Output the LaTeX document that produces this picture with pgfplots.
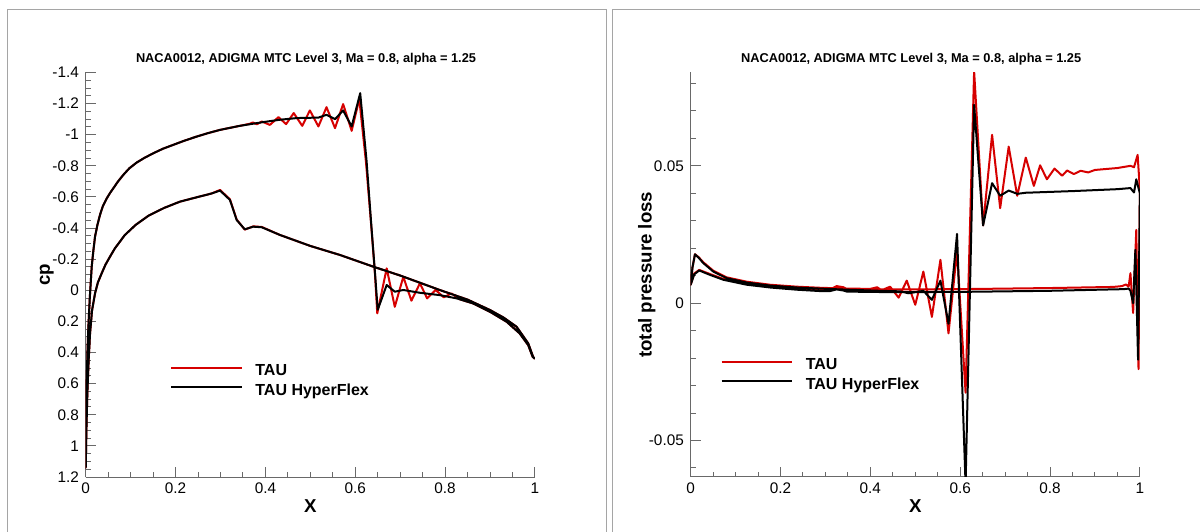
\documentclass[border=0pt]{standalone}
\usepackage{fontspec}
\setmainfont{Liberation Sans}
\usepackage{pgfplots}
\pgfplotsset{compat=1.18}

\definecolor{tauRed}{RGB}{214,0,0}
\definecolor{axGray}{RGB}{105,105,105}
\definecolor{frameGray}{RGB}{165,165,165}

\pgfplotsset{
  tecplot/.style={
    scale only axis,
    width=336.9pt, height=303.4pt,
    axis lines=left,
    axis line style={-, draw=axGray, line width=0.75pt},
    tick align=inside,
    major tick length=7.5pt, minor tick length=4pt,
    every tick/.style={axGray, line width=0.75pt},
    /pgf/number format/assume math mode=true,
    scaled y ticks=false,
    tick label style={font=\fontsize{11.5}{13}\selectfont},
    xmin=0, xmax=1,
    xtick={0,0.2,0.4,0.6,0.8,1}, minor x tick num=3,
    xticklabel style={anchor=base, yshift=-12.7pt},
    yticklabel style={xshift=-1.6pt},
    every axis title shift=0pt,
    title style={font=\bfseries\fontsize{9.6}{11}\selectfont, anchor=base, yshift=0pt},
    label style={font=\bfseries\fontsize{14}{16}\selectfont},
    xlabel style={at={(axis description cs:0.5,-0.0873)}, anchor=base},
    legend cell align=left,
    legend style={draw=none, fill=none, inner sep=0pt, outer sep=0pt,
      font=\bfseries\fontsize{12}{14}\selectfont,
      nodes={inner sep=0pt, text height=9pt, text depth=2.6pt},
      row sep=3pt, column sep=9.5pt},
    legend image code/.code={\draw[#1] (0pt,2.8pt) -- (53pt,2.8pt);},
    every axis plot/.append style={line width=1.5pt, line join=round},
  }
}

\begin{document}
\begin{tikzpicture}
\path[use as bounding box] (0pt,0pt) rectangle (900pt,399pt);
% panel frames
\draw[frameGray, line width=0.75pt] (5.625pt,-2pt) -- (5.625pt,391.9pt) -- (454.9pt,391.9pt) -- (454.9pt,-2pt);
\draw[frameGray, line width=0.75pt] (459.4pt,-2pt) -- (459.4pt,391.9pt) -- (902pt,391.9pt);

% pressure coefficient: lower surface from the trailing edge forward, then upper surface back
\begin{axis}[tecplot,
  at={(64.3pt,41.25pt)}, anchor=south west,
  y dir=reverse,
  ymin=-1.4, ymax=1.2,
  ytick={-1.4,-1.2,-1,-0.8,-0.6,-0.4,-0.2,0,0.2,0.4,0.6,0.8,1,1.2},
  minor y tick num=3,
  title={NACA0012, ADIGMA MTC Level 3, Ma = 0.8, alpha = 1.25},
  title style={at={(axis description cs:0.4904,1.0235)}},
  xlabel={X}, ylabel={cp},
  ylabel style={at={(axis description cs:-0.0801,0.5)}, anchor=base},
  legend style={at={(axis description cs:0.1877,0.2801)}, anchor=north west},
]
\addplot[tauRed] coordinates {
(1.0,0.44) (0.996,0.428) (0.985,0.341) (0.959,0.234) (0.93,0.175) (0.9,0.127)
(0.85,0.06) (0.788,-0.002) (0.7,-0.095) (0.64,-0.152) (0.566,-0.227) (0.5,-0.285)
(0.432,-0.356) (0.392,-0.407) (0.373,-0.411) (0.354,-0.39) (0.336,-0.455)
(0.321,-0.585) (0.299,-0.645) (0.28,-0.622) (0.25,-0.6) (0.21,-0.57) (0.175,-0.53)
(0.14,-0.48) (0.111,-0.42) (0.087,-0.355) (0.065,-0.27) (0.054,-0.216)
(0.044,-0.165) (0.0355,-0.109) (0.027,-0.05) (0.0207,0.02) (0.014,0.13)
(0.0096,0.277) (0.0065,0.45) (0.0036,0.663) (0.0015,0.9) (0,1.14)
(0.0008,0.85) (0.0022,0.58) (0.004,0.38) (0.0059,0.234) (0.009,0.05)
(0.0133,-0.152) (0.017,-0.255) (0.0207,-0.345) (0.026,-0.42) (0.0318,-0.485)
(0.038,-0.54) (0.0467,-0.59) (0.054,-0.625) (0.0615,-0.656) (0.072,-0.70)
(0.0837,-0.742) (0.097,-0.784) (0.1134,-0.821) (0.13,-0.85) (0.1505,-0.881)
(0.172,-0.91) (0.195,-0.935) (0.22,-0.962) (0.247,-0.988) (0.272,-1.01)
(0.299,-1.031) (0.343,-1.057) (0.365,-1.07) (0.372,-1.079) (0.381,-1.067)
(0.392,-1.085) (0.410,-1.063) (0.429,-1.113) (0.446,-1.068) (0.463,-1.139)
(0.482,-1.057) (0.499,-1.156) (0.518,-1.053) (0.536,-1.177) (0.555,-1.042)
(0.573,-1.197) (0.592,-1.025) (0.609,-1.229) (0.624,-0.82) (0.636,-0.40)
(0.644,-0.10) (0.649,0.148) (0.670,-0.141) (0.688,0.106) (0.707,-0.087)
(0.725,0.067) (0.744,-0.045) (0.760,0.052) (0.779,-0.002) (0.797,0.045)
(0.814,0.02) (0.833,0.058) (0.862,0.084) (0.9,0.138) (0.937,0.202)
(0.966,0.277) (0.985,0.352) (0.995,0.428) (1.0,0.44)
};
\addlegendentry{TAU}
\addplot[black] coordinates {
(1.0,0.44) (0.996,0.428) (0.985,0.341) (0.959,0.234) (0.93,0.175) (0.9,0.127)
(0.85,0.06) (0.788,-0.002) (0.7,-0.095) (0.64,-0.152) (0.566,-0.227) (0.5,-0.285)
(0.432,-0.356) (0.392,-0.405) (0.373,-0.409) (0.354,-0.392) (0.336,-0.452)
(0.321,-0.581) (0.299,-0.641) (0.28,-0.622) (0.25,-0.6) (0.21,-0.57) (0.175,-0.53)
(0.14,-0.48) (0.111,-0.42) (0.087,-0.355) (0.065,-0.27) (0.054,-0.216)
(0.044,-0.165) (0.0355,-0.109) (0.027,-0.05) (0.0207,0.02) (0.014,0.13)
(0.0096,0.277) (0.0065,0.45) (0.0036,0.663) (0.0015,0.9) (0,1.14)
(0.0008,0.85) (0.0022,0.58) (0.004,0.38) (0.0059,0.234) (0.009,0.05)
(0.0133,-0.152) (0.017,-0.255) (0.0207,-0.345) (0.026,-0.42) (0.0318,-0.485)
(0.038,-0.54) (0.0467,-0.59) (0.054,-0.625) (0.0615,-0.656) (0.072,-0.70)
(0.0837,-0.742) (0.097,-0.784) (0.1134,-0.821) (0.13,-0.85) (0.1505,-0.881)
(0.172,-0.91) (0.195,-0.935) (0.22,-0.962) (0.247,-0.988) (0.272,-1.01)
(0.299,-1.031) (0.343,-1.057) (0.395,-1.081) (0.432,-1.096) (0.470,-1.107)
(0.518,-1.110) (0.536,-1.128) (0.555,-1.100) (0.573,-1.156) (0.592,-1.053)
(0.611,-1.267) (0.625,-0.838) (0.636,-0.409) (0.644,-0.109) (0.650,0.125)
(0.670,-0.034) (0.688,0.009) (0.707,-0.002) (0.744,0.016) (0.788,0.031)
(0.826,0.052) (0.862,0.084) (0.9,0.138) (0.937,0.202) (0.966,0.277)
(0.985,0.352) (0.995,0.428) (1.0,0.44)
};
\addlegendentry{TAU HyperFlex}
\end{axis}

% total pressure loss
\begin{axis}[tecplot,
  at={(518.0pt,41.25pt)}, anchor=south west,
  ymin=-0.0633, ymax=0.0840,
  ytick={-0.05,0,0.05}, yticklabels={-0.05,0,0.05},
  minor ytick={-0.06,-0.04,-0.03,-0.02,-0.01,0.01,0.02,0.03,0.04,0.06,0.07,0.08},
  title={NACA0012, ADIGMA MTC Level 3, Ma = 0.8, alpha = 1.25},
  title style={at={(axis description cs:0.491,1.0235)}},
  xlabel={X}, ylabel={total pressure loss},
  ylabel style={at={(axis description cs:-0.0871,0.5)}, anchor=base},
  legend style={at={(axis description cs:0.0664,0.2944)}, anchor=north west},
]
\addplot[tauRed] coordinates {
(1.0,0.0413) (0.997,-0.024) (0.992,0.0267) (0.985,-0.0036) (0.979,0.0109)
(0.975,0.006) (0.969,0.0068) (0.96,0.0062) (0.94,0.0059) (0.8,0.0055)
(0.6,0.0051) (0.45,0.005) (0.35,0.005) (0.34,0.0058) (0.325,0.0062)
(0.31,0.005) (0.288,0.0049) (0.236,0.0053) (0.177,0.006) (0.125,0.007)
(0.073,0.0088) (0.043,0.0106) (0.019,0.0121) (0.008,0.0108) (0,0.0067)
(0.004,0.013) (0.0096,0.0178) (0.018,0.0167) (0.028,0.0149) (0.0504,0.0118)
(0.080,0.0094) (0.125,0.0078) (0.177,0.0067) (0.236,0.006) (0.288,0.0056)
(0.35,0.0053) (0.40,0.0052) (0.415,0.0058) (0.425,0.0047) (0.444,0.006)
(0.463,0.002) (0.481,0.0082) (0.5,-0.0006) (0.518,0.0115) (0.537,-0.005)
(0.556,0.0158) (0.574,-0.011) (0.593,0.019) (0.612,-0.0326) (0.631,0.0845)
(0.651,0.0283) (0.671,0.0613) (0.689,0.0346) (0.708,0.057) (0.727,0.0391)
(0.746,0.053) (0.764,0.0427) (0.778,0.0502) (0.793,0.0451) (0.810,0.049)
(0.827,0.0464) (0.838,0.0483) (0.853,0.047) (0.868,0.0482) (0.885,0.0476)
(0.9,0.0485) (0.95,0.0492) (0.979,0.050) (0.987,0.0495) (0.995,0.054)
(1.0,0.0413)
};
\addlegendentry{TAU}
\addplot[black] coordinates {
(1.0,0.040) (0.996,-0.0206) (0.99,0.0194) (0.985,0.0) (0.979,0.0045)
(0.975,0.0053) (0.964,0.0051) (0.8,0.0045) (0.6,0.0041) (0.45,0.0040)
(0.348,0.0042) (0.34,0.0046) (0.325,0.0050) (0.31,0.0044) (0.288,0.0044)
(0.236,0.0049) (0.177,0.0057) (0.125,0.0067) (0.073,0.0085) (0.043,0.0103)
(0.019,0.0119) (0.008,0.0105) (0,0.0067)
(0.004,0.013) (0.0096,0.0178) (0.018,0.0165) (0.028,0.0146) (0.0504,0.0115)
(0.080,0.0091) (0.125,0.0075) (0.177,0.0064) (0.236,0.0057) (0.288,0.0053)
(0.35,0.0049) (0.42,0.0045) (0.466,0.0043) (0.485,0.0036) (0.5,0.0040)
(0.518,0.0045) (0.537,0.0012) (0.556,0.0082) (0.574,-0.0075) (0.593,0.0252)
(0.612,-0.066) (0.631,0.0722) (0.651,0.0283) (0.671,0.0437) (0.689,0.0391)
(0.708,0.041) (0.727,0.0398) (0.746,0.0402) (0.85,0.0408) (0.95,0.0415)
(0.979,0.0419) (0.987,0.0403) (0.992,0.0451) (1.0,0.040)
};
\addlegendentry{TAU HyperFlex}
\end{axis}
\end{tikzpicture}
\end{document}
